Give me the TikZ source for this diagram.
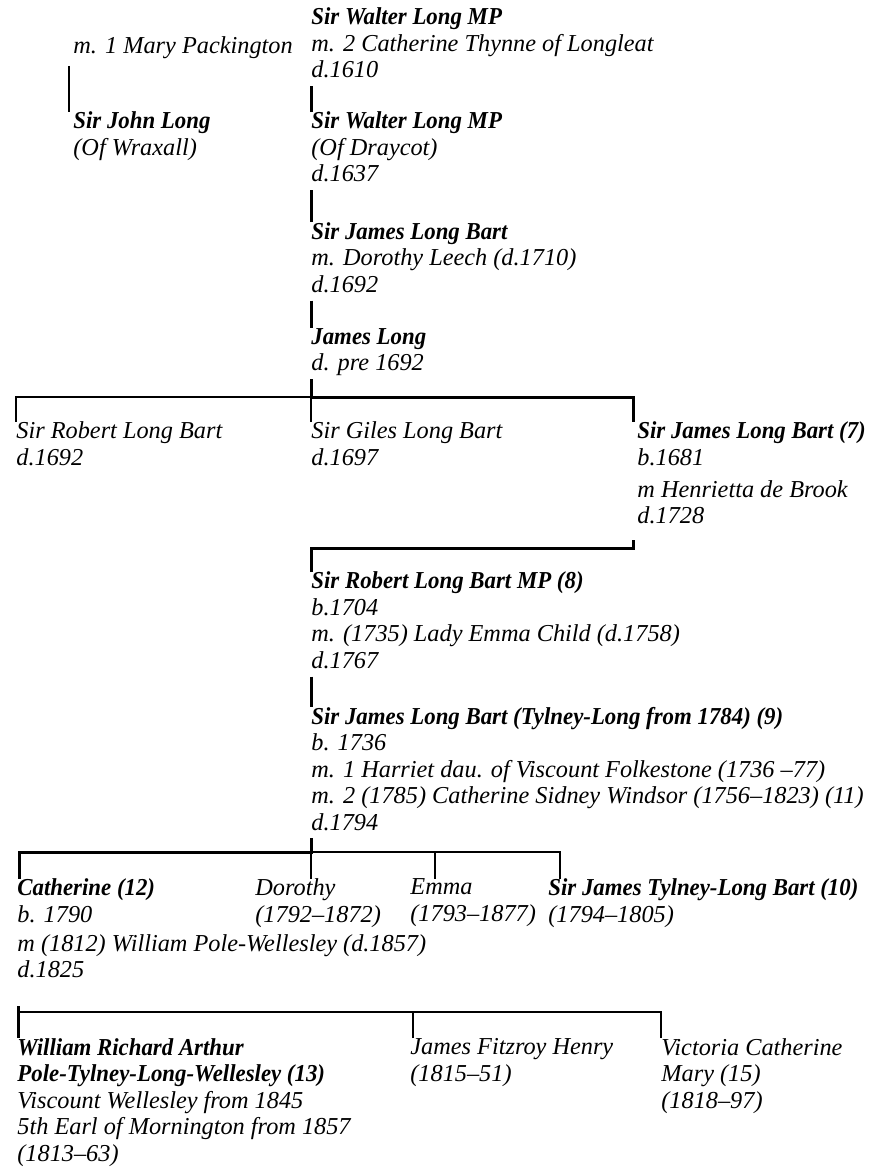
\documentclass[tikz,border=0pt]{standalone}
\usepackage{fontspec}
\setmainfont{Liberation Serif}[BoldItalicFeatures={FakeStretch=0.94}]
\usetikzlibrary{calc}

\tikzset{
    person/.style={anchor=north west, inner sep=0pt, align=left,
        font=\fontsize{12.15}{13.25}\selectfont\itshape,
        execute at begin node=\strut},
    kin/.style={line width=0.55pt},
    heir/.style={line width=1.5pt}
}

\begin{document}
\begin{tikzpicture}[x=0.5pt,y=-0.5pt]
                    \useasboundingbox (0,0) rectangle (870,1168);
                    \fill[white] (0,0) rectangle (870,1168);

                    \node[person] (walterA) at (311,7.5) {\textbf{Sir Walter Long MP}\\m. 2 Catherine Thynne of Longleat\\d.1610};
                    \node[person] (marriage1) at (73,34.5) {m. 1 Mary Packington};
                    \node[person] (john) at (73,111.5) {\textbf{Sir John Long}\\(Of Wraxall)};
                    \node[person] (walterB) at (311,111.5) {\textbf{Sir Walter Long MP}\\(Of Draycot)\\d.1637};
                    \node[person] (jamesA) at (311,222) {\textbf{Sir James Long Bart}\\m. Dorothy Leech (d.1710)\\d.1692};
                    \node[person] (jamesL) at (311,328) {\textbf{James Long}\\d. pre 1692};

                    \node[person] (robertA) at (16,421.5) {Sir Robert Long Bart\\d.1692};
                    \node[person] (giles) at (311,421.5) {Sir Giles Long Bart\\d.1697};
                    \node[person] (jamesB) at (637,421.5) {\textbf{Sir James Long Bart (7)}\\b.1681\\[2.75pt]m Henrietta de Brook\\d.1728};

                    \node[person] (robertB) at (311,571.5) {\textbf{Sir Robert Long Bart MP (8)}\\b.1704\\m. (1735) Lady Emma Child (d.1758)\\d.1767};
                    \node[person] (jamesC) at (311,706.5) {\textbf{Sir James Long Bart (Tylney-Long from 1784) (9)}\\b. 1736\\m. 1 Harriet dau. of Viscount Folkestone (1736 --77)\\m. 2 (1785) Catherine Sidney Windsor (1756--1823) (11)\\d.1794};

                    \node[person] (catherine) at (17,878.5) {\textbf{Catherine (12)}\\b. 1790\\[1.25pt]m (1812) William Pole-Wellesley (d.1857)\\d.1825};
                    \node[person] (dorothy) at (255,878.5) {Dorothy\\(1792--1872)};
                    \node[person] (emma) at (410,878.5) {Emma\\(1793--1877)};
                    \node[person] (jamesD) at (548,878.5) {\textbf{Sir James Tylney-Long Bart (10)}\\(1794--1805)};

                    \node[person] (william) at (17,1038) {\textbf{William Richard Arthur}\\\textbf{Pole-Tylney-Long-Wellesley (13)}\\Viscount Wellesley from 1845\\5th Earl of Mornington from 1857\\(1813--63)};
                    \node[person] (jamesF) at (410,1038) {James Fitzroy Henry\\(1815--51)};
                    \node[person] (victoria) at (661,1038) {Victoria Catherine\\Mary (15)\\(1818--97)};

                    \coordinate (bar1) at (311,397);
                    \coordinate (bar2) at (633,548);
                    \coordinate (bar3) at (311,852);
                    \coordinate (bar4) at (18,1012);

                    \draw[kin] ([xshift=-2pt,yshift=-2pt]marriage1.south west) -- ([xshift=-2pt]john.north west);
                    \draw[heir] (walterA.south west) -- (walterB.north west);
                    \draw[heir] (walterB.south west) -- (jamesA.north west);
                    \draw[heir] (jamesA.south west) -- (jamesL.north west);

                    \draw[kin] (robertA.north west) |- (bar1) -- (giles.north west);
                    \draw[heir] (jamesL.south west) -- (bar1) -| ([xshift=-2pt]jamesB.north west);
                    \draw[heir] ([xshift=-2pt,yshift=-4pt]jamesB.south west) -- (bar2) -| (robertB.north west);
                    \draw[heir] (robertB.south west) -- (jamesC.north west);

                    \draw[kin] (bar3 |- dorothy.north) -- (bar3);
                    \draw[kin] ([xshift=12.5pt]emma.north west) |- (bar3);
                    \draw[kin] ([xshift=6pt]jamesD.north west) |- (bar3);
                    \draw[heir] (jamesC.south west) -- (bar3) -| ([xshift=1pt]catherine.north west);

                    \draw[kin] (bar4) -| (victoria.north west);
                    \draw[kin] ([xshift=1.5pt]jamesF.north west) |- (bar4);
                    \draw[heir] ([xshift=0.5pt,yshift=-10pt]catherine.south west) -- ([xshift=0.5pt]william.north west);
\end{tikzpicture}
\end{document}
